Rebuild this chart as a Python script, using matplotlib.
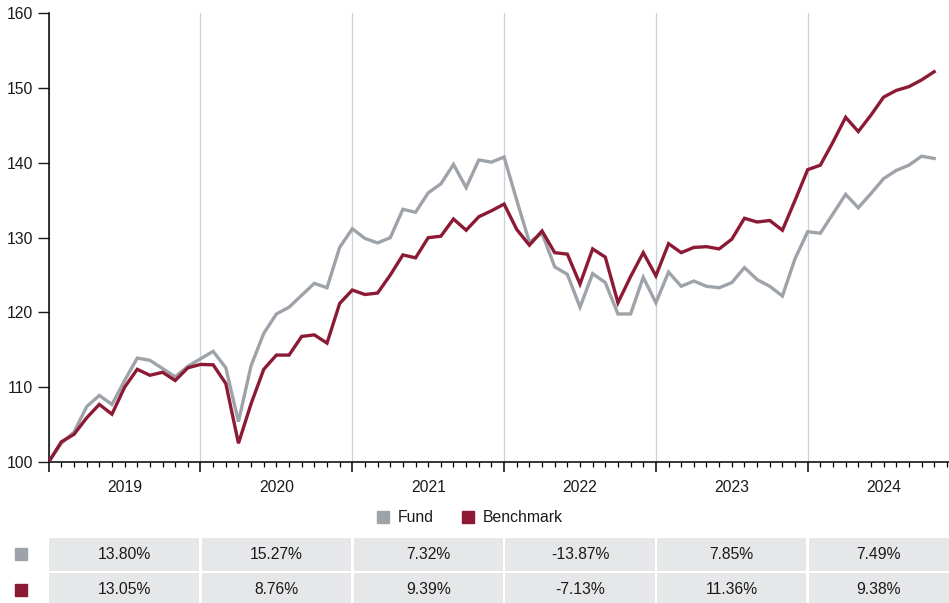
import matplotlib.pyplot as plt
from matplotlib.lines import Line2D
from matplotlib.patches import Rectangle
import matplotlib.transforms as mtransforms

# Growth of 100, monthly, Dec 2018 .. Oct 2024
fund = [100.0, 102.5, 104.0, 107.4, 108.9, 107.7, 110.9, 113.9, 113.6, 112.5, 111.4, 112.8,
        113.8, 114.8, 112.6, 105.4, 112.9, 117.2, 119.8, 120.7, 122.3, 123.9, 123.3, 128.7,
        131.2, 129.9, 129.3, 130.0, 133.8, 133.4, 136.0, 137.2, 139.8, 136.7, 140.4, 140.1,
        140.8, 135.0, 129.4, 130.6, 126.1, 125.1, 120.7, 125.2, 124.0, 119.8, 119.8, 124.7,
        121.3, 125.4, 123.5, 124.2, 123.5, 123.3, 124.0, 126.0, 124.4, 123.5, 122.2, 127.2,
        130.8, 130.6, 133.2, 135.8, 134.0, 135.9, 137.9, 139.0, 139.7, 140.9, 140.6]
benchmark = [100.0, 102.7, 103.7, 105.9, 107.7, 106.4, 110.0, 112.4, 111.6, 112.0, 110.9, 112.6,
             113.05, 113.0, 110.5, 102.5, 107.8, 112.4, 114.3, 114.3, 116.8, 117.0, 115.9, 121.2,
             123.0, 122.4, 122.6, 125.0, 127.7, 127.3, 130.0, 130.2, 132.5, 131.0, 132.8, 133.6,
             134.5, 131.1, 129.0, 130.9, 128.0, 127.8, 123.8, 128.5, 127.4, 121.3, 124.8, 128.0,
             124.9, 129.2, 128.0, 128.7, 128.8, 128.5, 129.8, 132.6, 132.1, 132.3, 131.0, 135.0,
             139.1, 139.7, 142.8, 146.1, 144.2, 146.4, 148.8, 149.7, 150.2, 151.1, 152.2]
months = list(range(len(fund)))

years = ['2019', '2020', '2021', '2022', '2023', '2024']
fund_returns = ['13.80%', '15.27%', '7.32%', '-13.87%', '7.85%', '7.49%']
bench_returns = ['13.05%', '8.76%', '9.39%', '-7.13%', '11.36%', '9.38%']

FUND_COL = '#9ea3a9'
BENCH_COL = '#8c1a35'
CELL_COL = '#e6e7e9'
TXT = '#1a1a1a'

plt.rcParams['font.family'] = ['Liberation Sans', 'DejaVu Sans']
plt.rcParams['font.size'] = 11

W, H = 949, 603
fig = plt.figure(figsize=(W / 100, H / 100), dpi=100)

x_left = 48.7
x_max = (W - x_left) / 12.65
ax = fig.add_axes([x_left / W, 1 - 462 / H, (W - x_left) / W, (462 - 13.4) / H])

ax.plot(months, fund, color=FUND_COL, lw=2.4, solid_joinstyle='miter', zorder=3)
ax.plot(months, benchmark, color=BENCH_COL, lw=2.4, solid_joinstyle='miter', zorder=4)

ax.set_xlim(0, x_max)
ax.set_ylim(100, 160)
ax.set_yticks(range(100, 161, 10))
ax.tick_params(axis='y', length=8, width=1.0, pad=3, colors=TXT, labelsize=11.3)

ax.set_xticks(range(0, 72, 12))
ax.set_xticks(range(0, 72), minor=True)
ax.tick_params(axis='x', which='major', length=7.4, width=1.1, labelbottom=False)
ax.tick_params(axis='x', which='minor', length=3.5, width=0.9)
ax.xaxis.grid(True, which='major', color='#cdd2d7', lw=1.0)
ax.set_axisbelow(True)

for s in ['top', 'right']:
    ax.spines[s].set_visible(False)
for s in ['left', 'bottom']:
    ax.spines[s].set_linewidth(1.1)
    ax.spines[s].set_color('black')

# year labels centred in each year
trans = mtransforms.blended_transform_factory(ax.transData, ax.transAxes)
for k, y in enumerate(years):
    ax.text(12 * k + 6, -25 / 448.6, y, transform=trans, ha='center', va='center',
            fontsize=11.3, color=TXT)

# legend
handles = [Line2D([], [], ls='none', marker='s', ms=8, color=FUND_COL, label='Fund'),
           Line2D([], [], ls='none', marker='s', ms=8, color=BENCH_COL, label='Benchmark')]
fig.legend(handles=handles, loc='center', bbox_to_anchor=(470 / W, 1 - 517.5 / H), ncol=2,
           frameon=False, fontsize=11.3, handlelength=0.7, handletextpad=0.6,
           columnspacing=1.8, labelcolor=TXT)

# returns table
ax_t = fig.add_axes([x_left / W, 0, (W - x_left) / W, (H - 537.7) / H])
ax_t.set_xlim(0, x_max)
ax_t.set_ylim(H - 537.7, 0)
ax_t.axis('off')
row_h, gap = 33.0, 2.6
for r, vals in enumerate([fund_returns, bench_returns]):
    y0 = r * (row_h + gap)
    for k, v in enumerate(vals):
        x0 = 12 * k + (0.1 if k > 0 else 0)
        x1 = min(12 * (k + 1) - 0.1, x_max)
        ax_t.add_patch(Rectangle((x0, y0), x1 - x0, row_h, color=CELL_COL, lw=0))
        ax_t.text((x0 + x1) / 2, y0 + row_h / 2, v, ha='center', va='center',
                  fontsize=11.3, color=TXT)
    ax_t.plot([-27.7 / 12.65], [y0 + row_h / 2], marker='s', ms=8,
              color=[FUND_COL, BENCH_COL][r], clip_on=False)

fig.savefig('out.png', dpi=100)
